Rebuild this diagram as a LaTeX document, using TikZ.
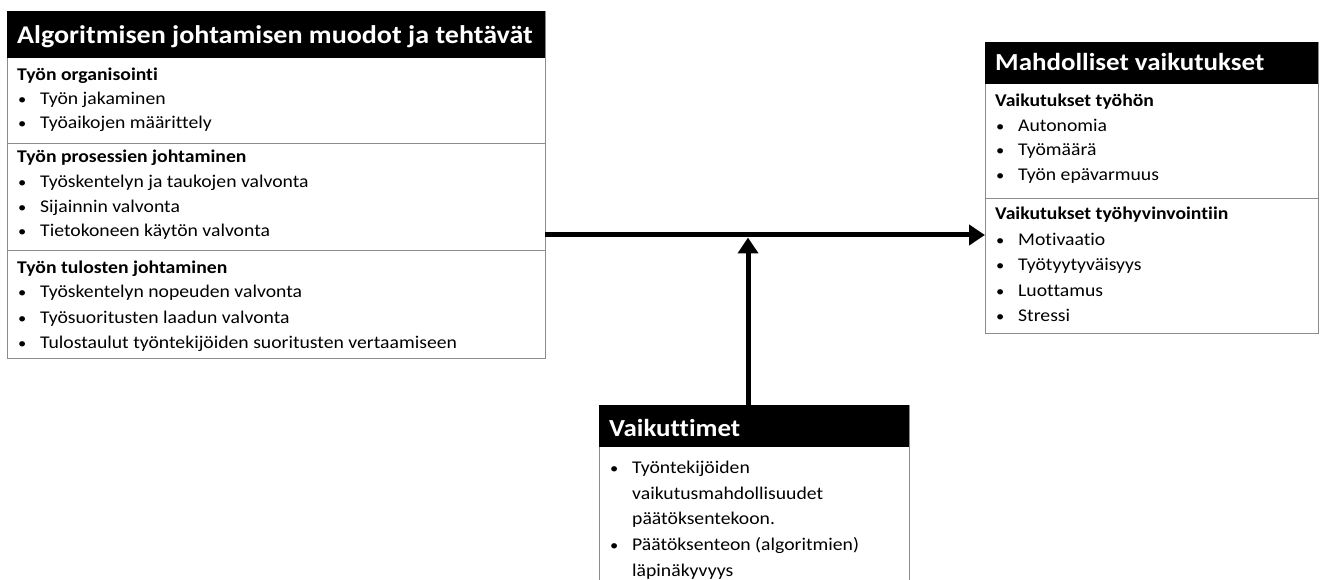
\documentclass[tikz,border=0pt]{standalone}
\usepackage{fontspec}
\setmainfont{Carlito}[FakeStretch=1.1, Ligatures=NoCommon]
\usetikzlibrary{arrows.meta}
\begin{document}
\begin{tikzpicture}[x=1pt,y=-1pt,
 box/.style={draw=black!45, line width=0.9pt, fill=white, anchor=north west, inner sep=0pt, outer sep=0pt},
 hdr/.style={fill=black, anchor=north west, inner sep=0pt, outer sep=0pt},
 htxt/.style={anchor=base west, text=white, font=\fontsize{24.5}{28}\selectfont\bfseries, inner sep=0pt},
 sec/.style={anchor=base west, font=\fontsize{17.9}{21}\selectfont\bfseries, inner sep=0pt},
 itm/.style={anchor=base west, font=\fontsize{17.9}{21}\selectfont, inner sep=0pt},
 bul/.style={anchor=base west, font=\fontsize{15}{18}\selectfont, inner sep=0pt},
 divl/.style={draw=black!45, line width=0.9pt},
 arr/.style={line width=5pt, -{Triangle[length=16pt,width=20pt]}}
]
\useasboundingbox (0,0) rectangle (1323,580);
\clip (0,0) rectangle (1323,580);
\newcommand\bitem[4]{\node[bul] (#1b) at (#2+1,#3) {•}; \node[itm] (#1) at (#2+23,#3) {#4};}
\newcommand\citem[4]{\node[itm] (#1) at (#2+23,#3) {#4};}

% left box
\node[box, minimum width=538pt, minimum height=347pt] (L) at (7,11) {};
\node[hdr, minimum width=538pt, minimum height=47pt] (Lh) at (7,11) {};
\node[htxt, font=\fontsize{25.5}{30}\selectfont\bfseries] (Lt) at (17,43.5) {Algoritmisen johtamisen muodot ja tehtävät};
\draw[divl] (7,143) -- (545,143);
\draw[divl] (7,250) -- (545,250);
\node[sec] (L1) at (17,81) {Työn organisointi};
\bitem{L1a}{17}{105}{Työn jakaminen}
\bitem{L1b}{17}{129}{Työaikojen määrittely}
\node[sec] (L2) at (17,163) {Työn prosessien johtaminen};
\bitem{L2a}{17}{188}{Työskentelyn ja taukojen valvonta}
\bitem{L2b}{17}{213}{Sijainnin valvonta}
\bitem{L2c}{17}{237}{Tietokoneen käytön valvonta}
\node[sec] (L3) at (17,273) {Työn tulosten johtaminen};
\bitem{L3a}{17}{298}{Työskentelyn nopeuden valvonta}
\bitem{L3b}{17}{323}{Työsuoritusten laadun valvonta}
\bitem{L3c}{17}{348}{Tulostaulut työntekijöiden suoritusten vertaamiseen}

% right box
\node[box, minimum width=333pt, minimum height=291pt] (R) at (985,42) {};
\node[hdr, minimum width=333pt, minimum height=42pt] (Rh) at (985,42) {};
\node[htxt] (Rt) at (995,71) {Mahdolliset vaikutukset};
\draw[divl] (985,198) -- (1318,198);
\node[sec] (R1) at (995,107) {Vaikutukset työhön};
\bitem{R1a}{995}{132}{Autonomia}
\bitem{R1b}{995}{156}{Työmäärä}
\bitem{R1c}{995}{181}{Työn epävarmuus}
\node[sec] (R2) at (995,220) {Vaikutukset työhyvinvointiin};
\bitem{R2a}{995}{246}{Motivaatio}
\bitem{R2b}{995}{271}{Työtyytyväisyys}
\bitem{R2c}{995}{296}{Luottamus}
\bitem{R2d}{995}{321}{Stressi}

% bottom box
\node[box, minimum width=310pt, minimum height=200pt] (V) at (599,405) {};
\node[hdr, minimum width=310pt, minimum height=42pt] (Vh) at (599,405) {};
\node[htxt] (Vt) at (609,436) {Vaikuttimet};
\bitem{V1}{609}{473}{Työntekijöiden}
\citem{V1x}{609}{499}{vaikutusmahdollisuudet}
\citem{V1y}{609}{524}{päätöksentekoon.}
\bitem{V2}{609}{550}{Päätöksenteon (algoritmien)}
\citem{V2x}{609}{576}{läpinäkyvyys}

% arrows
\coordinate (h) at (748,235);
\coordinate (j) at (748,237.5);
\draw[arr] (L.east |- h) -- (R.west |- h);
\draw[arr] (V.north -| j) -- (j);
\end{tikzpicture}
\end{document}
